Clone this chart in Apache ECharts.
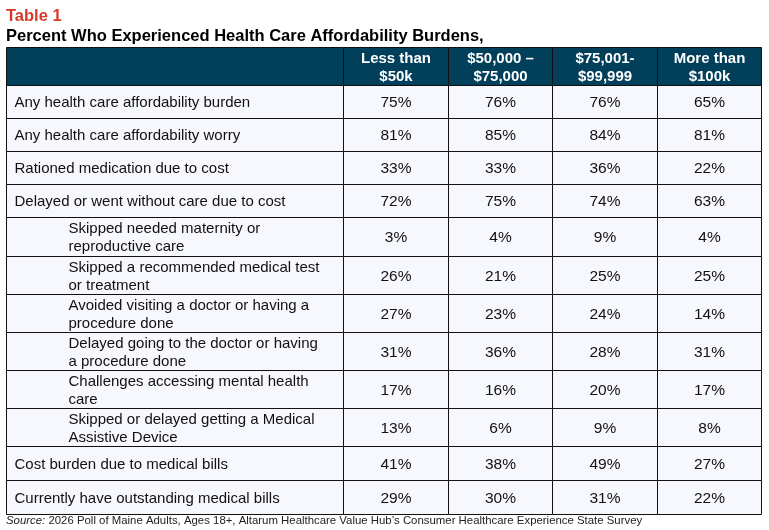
<!DOCTYPE html>
<html>
<head>
<meta charset="utf-8">
<script src="https://cdn.jsdelivr.net/npm/echarts@6/dist/echarts.min.js"></script>
<style>
  html, body { margin: 0; padding: 0; background: #fff; }
  #table1 { width: 769px; height: 530px; }
</style>
</head>
<body>
<div id="table1"></div>
<script>
// column headers (income groups)
var colHeaders = ['', 'Less than\n$50k', '$50,000 \u2013\n$75,000', '$75,001-\n$99,999', 'More than\n$100k'];

// row labels, sub items are indented
var rowLabels = [
    'Any health care affordability burden',
    'Any health care affordability worry',
    'Rationed medication due to cost',
    'Delayed or went without care due to cost',
    'Skipped needed maternity or\nreproductive care',
    'Skipped a recommended medical test\nor treatment',
    'Avoided visiting a doctor or having a\nprocedure done',
    'Delayed going to the doctor or having\na procedure done',
    'Challenges accessing mental health\ncare',
    'Skipped or delayed getting a Medical\nAssistive Device',
    'Cost burden due to medical bills',
    'Currently have outstanding medical bills'
];
var subRows = [false, false, false, false, true, true, true, true, true, true, false, false];

// percent values per income group
var lessThan50k = [75, 81, 33, 72, 3, 26, 27, 31, 17, 13, 41, 29];
var from50kTo75k = [76, 85, 33, 75, 4, 21, 23, 36, 16, 6, 38, 30];
var from75kTo100k = [76, 84, 36, 74, 9, 25, 24, 28, 20, 9, 49, 31];
var over100k = [65, 81, 22, 63, 4, 25, 14, 31, 17, 8, 27, 22];

var valueCols = [lessThan50k, from50kTo75k, from75kTo100k, over100k];

// layout of the table (units = px on the hidden value axes)
var colWidths = [337, 105, 104, 105, 104];
var rowHeights = [38, 33, 33, 33, 33, 39, 38, 38, 38, 38, 38, 34, 34];

function starts(arr) {
    var out = [], acc = 0;
    arr.forEach(function (v) { out.push(acc); acc += v; });
    return out;
}
var colStart = starts(colWidths);
var rowStart = starts(rowHeights);
var totalW = colWidths.reduce(function (a, b) { return a + b; }, 0);
var totalH = rowHeights.reduce(function (a, b) { return a + b; }, 0);

var cells = [];
for (var r = 0; r <= rowLabels.length; r++) {
    for (var c = 0; c < colHeaders.length; c++) {
        cells.push([c, r]);
    }
}

var chart = echarts.init(document.getElementById('table1'));

var option = {
    backgroundColor: '#fff',
    animation: false,
    title: [{
        text: 'Table 1',
        left: 6,
        top: 8,
        padding: 0,
        textStyle: { color: '#d63b2a', fontSize: 16.5, fontWeight: 'bold', fontFamily: 'Liberation Sans' }
    }, {
        text: 'Percent Who Experienced Health Care Affordability Burdens,',
        left: 6,
        top: 28,
        padding: 0,
        textStyle: { color: '#000', fontSize: 16.5, fontWeight: 'bold', fontFamily: 'Liberation Sans' }
    }, {
        text: '{i|Source:} 2026 Poll of Maine Adults, Ages 18+, Altarum Healthcare Value Hub\u2019s Consumer Healthcare Experience State Survey',
        left: 6,
        top: 515,
        padding: 0,
        textStyle: {
            color: '#222', fontSize: 11.4, fontWeight: 'normal', fontFamily: 'Liberation Sans',
            rich: { i: { fontStyle: 'italic', fontSize: 11.4, color: '#222', fontFamily: 'Liberation Sans' } }
        }
    }],
    grid: { left: 6, top: 47, width: totalW, height: totalH },
    xAxis: { type: 'value', min: 0, max: totalW, show: false },
    yAxis: { type: 'value', min: 0, max: totalH, inverse: true, show: false },
    series: [{
        type: 'custom',
        data: cells,
        renderItem: function (params, api) {
            var c = api.value(0), r = api.value(1);
            var p0 = api.coord([colStart[c], rowStart[r]]);
            var p1 = api.coord([colStart[c] + colWidths[c], rowStart[r] + rowHeights[r]]);
            var x = Math.round(p0[0]) + 0.5, y = Math.round(p0[1]) + 0.5;
            var w = Math.round(p1[0]) - Math.round(p0[0]);
            var h = Math.round(p1[1]) - Math.round(p0[1]);
            var header = r === 0;
            var txt, align = 'center', tx = x + w / 2, size = 15.5;
            if (header) {
                txt = colHeaders[c];
                size = 15;
            } else if (c === 0) {
                txt = rowLabels[r - 1];
                align = 'left';
                tx = x + (subRows[r - 1] ? 62 : 8);
                size = 15;
            } else {
                txt = valueCols[c - 1][r - 1] + '%';
            }
            return {
                type: 'group',
                children: [{
                    type: 'rect',
                    shape: { x: x, y: y, width: w, height: h },
                    style: { fill: header ? '#023f5a' : '#f7f8fd', stroke: '#111', lineWidth: 1 }
                }, {
                    type: 'text',
                    style: {
                        text: txt,
                        x: tx,
                        y: y + h / 2 + 1,
                        align: align,
                        verticalAlign: 'middle',
                        fill: header ? '#fff' : '#111',
                        fontSize: size,
                        fontWeight: header ? 'bold' : 'normal',
                        fontFamily: 'Liberation Sans',
                        lineHeight: 18
                    }
                }]
            };
        }
    }]
};

chart.setOption(option);
</script>
</body>
</html>
